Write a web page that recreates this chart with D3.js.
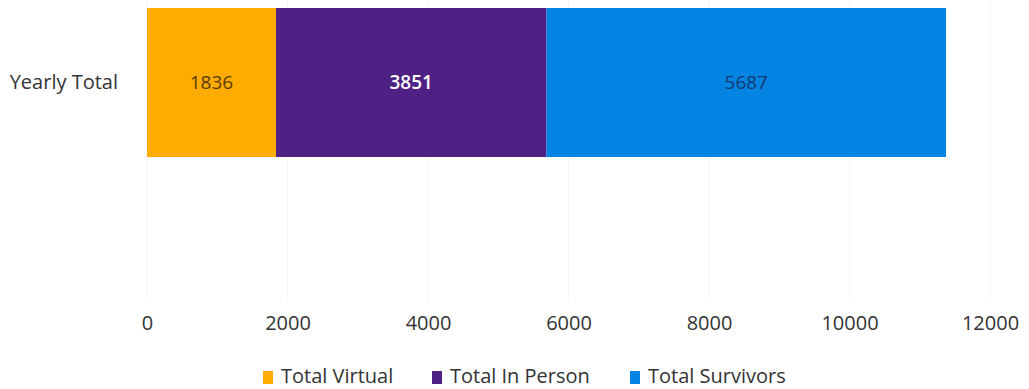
<!DOCTYPE html>
<html>
<head>
<meta charset="utf-8">
<script src="https://cdn.jsdelivr.net/npm/d3@7"></script>
<style>
  html, body { margin: 0; padding: 0; background: #fff; }
  svg { display: block; font-family: "Open Sans", "Noto Sans", sans-serif; }
</style>
</head>
<body>
<svg id="chart" width="1029" height="389"></svg>
<script>
// Yearly totals, stacked left to right
const categories = ["Yearly Total"];
const seriesNames = ["Total Virtual", "Total In Person", "Total Survivors"];
const totalVirtual = [1836];
const totalInPerson = [3851];
const totalSurvivors = [5687];
const tickValues = [0, 2000, 4000, 6000, 8000, 10000, 12000];

const colors = ["#FFAB00", "#4F2185", "#0285E2"];
const labelColors = ["#5a3c08", "#ffffff", "#123a73"];

const rows = categories.map((c, i) => ({
  category: c,
  "Total Virtual": totalVirtual[i],
  "Total In Person": totalInPerson[i],
  "Total Survivors": totalSurvivors[i]
}));

const svg = d3.select("#chart");

const x = d3.scaleLinear().domain([0, 12000]).range([147, 990]);
const y = d3.scaleBand().domain(categories).range([8, 157]).padding(0);

// faint vertical gridlines
svg.append("g")
  .selectAll("line")
  .data(tickValues)
  .join("line")
  .attr("x1", d => x(d)).attr("x2", d => x(d))
  .attr("y1", 0).attr("y2", 300)
  .attr("stroke", "#f5f5f5")
  .attr("stroke-width", 1);

const stack = d3.stack().keys(seriesNames)(rows);

const layers = svg.append("g")
  .selectAll("g")
  .data(stack)
  .join("g")
  .attr("fill", (d, i) => colors[i]);

layers.selectAll("rect")
  .data(d => d)
  .join("rect")
  .attr("x", d => x(d[0]))
  .attr("width", d => x(d[1]) - x(d[0]))
  .attr("y", d => y(d.data.category))
  .attr("height", y.bandwidth());

// value labels centred in each segment
svg.append("g")
  .selectAll("text")
  .data(stack.flatMap((layer, i) => layer.map(d => ({ d, i, key: layer.key }))))
  .join("text")
  .attr("x", o => (x(o.d[0]) + x(o.d[1])) / 2)
  .attr("y", o => y(o.d.data.category) + y.bandwidth() / 2)
  .attr("dy", "0.35em")
  .attr("text-anchor", "middle")
  .attr("font-size", 19)
  .attr("font-weight", o => o.i === 1 ? 600 : 400)
  .attr("fill", o => labelColors[o.i])
  .text(o => o.d.data[o.key]);

// category axis label
svg.append("g")
  .selectAll("text")
  .data(categories)
  .join("text")
  .attr("x", 118)
  .attr("y", d => y(d) + y.bandwidth() / 2 - 1)
  .attr("dy", "0.35em")
  .attr("text-anchor", "end")
  .attr("font-size", 20)
  .attr("fill", "#333")
  .text(d => d);

// value axis, labels only
const xAxis = d3.axisBottom(x).tickValues(tickValues).tickSize(0).tickPadding(0)
  .tickFormat(d3.format("d"));
const gx = svg.append("g").attr("transform", "translate(0,316)").call(xAxis);
gx.select(".domain").remove();
gx.selectAll("text")
  .attr("font-size", 20)
  .attr("font-family", "'Open Sans', 'Noto Sans', sans-serif")
  .attr("fill", "#333");

// legend
const legendX = [263, 432, 630];
const legend = svg.append("g")
  .selectAll("g")
  .data(seriesNames)
  .join("g")
  .attr("transform", (d, i) => `translate(${legendX[i]},368)`);
legend.append("rect")
  .attr("width", 10).attr("height", 13)
  .attr("y", 3)
  .attr("fill", (d, i) => colors[i]);
legend.append("text")
  .attr("x", 18)
  .attr("y", 8)
  .attr("dy", "0.35em")
  .attr("font-size", 20)
  .attr("fill", "#333")
  .text(d => d);
</script>
</body>
</html>
